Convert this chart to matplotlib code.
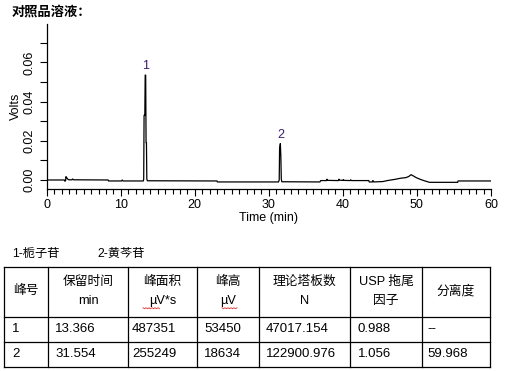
import matplotlib
matplotlib.use("Agg")
import matplotlib.pyplot as plt
from matplotlib.ticker import MultipleLocator

plt.rcParams['font.family'] = ['Liberation Sans', 'Noto Sans CJK SC', 'DejaVu Sans']

# ---- chromatogram ----
time_min = [0.0, 2.4, 2.45, 2.55, 2.6, 2.7, 2.8, 2.9, 3.0, 3.4, 3.5, 3.6, 8.3, 8.35,
            10.1, 10.2, 10.3, 13.05, 13.1, 13.15, 13.25, 13.3, 13.366, 13.42, 13.47,
            13.52, 13.6, 23.0, 23.05, 31.3, 31.4, 31.45, 31.554, 31.62, 31.68, 31.75,
            36.9, 37.0, 37.8, 37.85, 37.95, 39.4, 39.45, 39.55, 40.0, 40.05, 40.15,
            41.0, 41.05, 41.15, 43.5, 43.55, 44.0, 44.05, 44.15, 45.4, 46.0, 47.0,
            47.8, 48.5, 48.9, 49.2, 49.5, 49.9, 50.4, 51.0, 51.7, 55.5, 55.55, 60.0]
volts = [0.0, 0.0, -0.0006, -0.0004, 0.0017, 0.0012, 0.0006, 0.0003, 0.0001, 0.0001,
         0.0005, 0.0001, 0.0, -0.0005,
         -0.0005, 0.0, -0.0005, -0.0005, 0.0005, 0.033, 0.033, 0.0535, 0.0535, 0.019,
         0.019, 0.0005, -0.0004, -0.0005, -0.001, -0.001, 0.0, 0.016, 0.0186, 0.012,
         0.0005, -0.0009,
         -0.001, -0.0003, -0.0003, 0.0004, -0.0002, -0.0003, 0.0004, -0.0001, -0.0002,
         0.0002, -0.0002, -0.0003, 0.0001, -0.0003, -0.0003, -0.001, -0.001, -0.0003,
         -0.001, -0.0008, -0.0003, 0.0003, 0.0009, 0.0012, 0.0018, 0.0027, 0.0021,
         0.0012, 0.0004, -0.0004, -0.0012, -0.0012, -0.0005, -0.0005]

peak_ids = ["1", "2"]
peak_times = [13.366, 31.554]
peak_heights = [0.0535, 0.0186]

legend_text = ["1-栀子苷", "2-黄芩苷"]

# ---- table ----
header_line1 = ["峰号", "保留时间", "峰面积", "峰高", "理论塔板数", "USP 拖尾", "分离度"]
header_line2 = ["", "min", "µV*s", "µV", "N", "因子", ""]
row_ids = ["1", "2"]
ret_time = ["13.366", "31.554"]
area = ["487351", "255249"]
height = ["53450", "18634"]
plates = ["47017.154", "122900.976"]
tailing = ["0.988", "1.056"]
resolution = ["--", "59.968"]

W, H = 505, 371
fig = plt.figure(figsize=(W / 100, H / 100), dpi=100)

def fx(px):
    return px / W

def fy(py):
    return 1 - py / H

x0, x1 = 46.7, 491.0
y_top, y_bot = 24.0, 189.0
ax = fig.add_axes([fx(x0), fy(y_bot), fx(x1) - fx(x0), fy(y_top) - fy(y_bot)])
ax.plot(time_min, volts, color='black', lw=0.9)
ax.set_xlim(0, 60)
ax.set_ylim(-0.0046, 0.0796)
for s in ['top', 'right']:
    ax.spines[s].set_visible(False)
for s in ['left', 'bottom']:
    ax.spines[s].set_linewidth(0.9)
ax.xaxis.set_major_locator(MultipleLocator(10))
ax.xaxis.set_minor_locator(MultipleLocator(1))
ax.yaxis.set_major_locator(MultipleLocator(0.02))
ax.yaxis.set_minor_locator(MultipleLocator(0.01))
ax.set_yticks([0.0, 0.02, 0.04, 0.06])
ax.set_yticklabels(["0.00", "0.02", "0.04", "0.06"], rotation=90, va='center')
ax.tick_params(axis='x', which='major', length=5, width=0.8, labelsize=9, pad=2)
ax.tick_params(axis='x', which='minor', length=3.3, width=0.8)
ax.tick_params(axis='y', which='both', length=5, width=0.8, labelsize=9, pad=3)
ax.set_xlabel("Time (min)", fontsize=9, labelpad=1)
ax.set_ylabel("Volts", fontsize=9, labelpad=1)
for pid, t, h in zip(peak_ids, peak_times, peak_heights):
    ax.annotate(pid, (t, h), xytext=(0, 2), textcoords='offset points',
                ha='center', va='bottom', fontsize=9, color='#3a1d70')

# overlay axes in pixel coordinates for title / legend / table
ov = fig.add_axes([0, 0, 1, 1])
ov.set_xlim(0, W)
ov.set_ylim(H, 0)
ov.axis('off')

ov.text(12, 12, "对照品溶液：", fontsize=9.5, fontweight='bold',
        family=['Noto Sans CJK SC'], va='center', ha='left')
ov.text(12, 254, legend_text[0], fontsize=8.8, va='center', ha='left')
ov.text(97, 254, legend_text[1], fontsize=8.8, va='center', ha='left')

col_x = [4, 48, 128, 197, 259, 350, 422, 490]
row_y = [267, 317, 342, 367]
lw = 0.9
for xv in col_x:
    ov.plot([xv, xv], [row_y[0], row_y[-1]], color='black', lw=lw)
for yv in row_y:
    ov.plot([col_x[0], col_x[-1]], [yv, yv], color='black', lw=lw)

fs = 9.2
for i in range(7):
    cx = (col_x[i] + col_x[i + 1]) / 2
    if header_line2[i]:
        ov.text(cx, 282, header_line1[i], fontsize=fs, ha='center', va='center')
        ov.text(cx, 301, header_line2[i], fontsize=fs, ha='center', va='center')
    else:
        ov.text(cx, 291, header_line1[i], fontsize=fs, ha='center', va='center')

# spell-check squiggles under µV
for xa, xb in [(143, 160), (222, 237)]:
    xs = [xa + k * 1.5 for k in range(int((xb - xa) / 1.5) + 1)]
    ys = [308 + (0.8 if k % 2 else -0.3) for k in range(len(xs))]
    ov.plot(xs, ys, color='#e03030', lw=0.6)

cols = [row_ids, ret_time, area, height, plates, tailing, resolution]
text_x = [12, 55, 132, 204, 266, 358, 427]
row_centers = [329, 354]
for ci, col in enumerate(cols):
    for ri, val in enumerate(col):
        ov.text(text_x[ci], row_centers[ri], val, fontsize=9.5, ha='left', va='center')

fig.savefig("out.png", dpi=100)
